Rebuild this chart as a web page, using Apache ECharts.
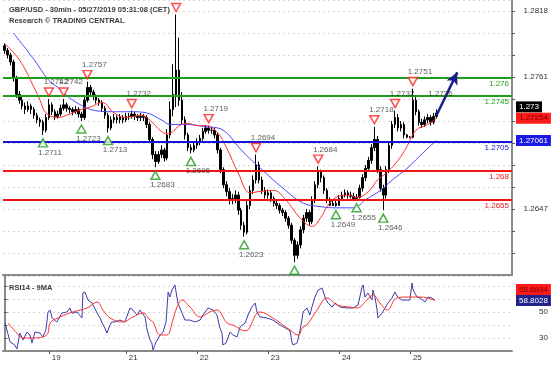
<!DOCTYPE html>
<html><head><meta charset="utf-8">
<script src="https://cdn.jsdelivr.net/npm/echarts@6/dist/echarts.min.js"></script>
<style>html,body{margin:0;padding:0;background:#fff}#c{width:554px;height:366px}</style>
</head><body><div id="c"></div>
<script>
// ---- data ----
const dayLabels = ['19','21','22','23','24','25'];
const dayIndex = [15,41,65,89,113,137];
const slotCount = 172;
const priceTickLabels = ['1.2818','1.2761','1.2647'];
const rsiTickLabels = ['50','30'];
// hourly candles: [open, close, low, high]
const candles = [
[1.2788,1.2784,1.2781,1.2790],[1.2784,1.2780,1.2777,1.2786],[1.2780,1.2774,1.2771,1.2782],[1.2774,1.2760,1.2757,1.2776],
[1.2760,1.2746,1.2743,1.2762],[1.2746,1.2741,1.2738,1.2749],[1.2741,1.2736,1.2733,1.2744],[1.2736,1.2733,1.2729,1.2739],
[1.2733,1.2736,1.2731,1.2740],[1.2736,1.2733,1.2729,1.2738],[1.2733,1.2728,1.2725,1.2735],[1.2728,1.2724,1.2721,1.2730],
[1.2724,1.2722,1.2718,1.2726],[1.2722,1.2715,1.2711,1.2724],[1.2715,1.2726,1.2713,1.2729],[1.2726,1.2737,1.2724,1.2742],
[1.2737,1.2731,1.2728,1.2739],[1.2731,1.2727,1.2724,1.2733],[1.2727,1.2729,1.2725,1.2732],[1.2729,1.2734,1.2727,1.2737],
[1.2734,1.2737,1.2732,1.2742],[1.2737,1.2734,1.2731,1.2739],[1.2734,1.2733,1.2730,1.2736],[1.2733,1.2731,1.2728,1.2735],
[1.2731,1.2733,1.2729,1.2736],[1.2733,1.2729,1.2726,1.2735],[1.2729,1.2726,1.2723,1.2731],[1.2726,1.2741,1.2724,1.2744],
[1.2741,1.2752,1.2739,1.2757],[1.2752,1.2748,1.2745,1.2754],[1.2748,1.2744,1.2741,1.2750],[1.2744,1.2741,1.2738,1.2746],
[1.2741,1.2739,1.2736,1.2743],[1.2739,1.2734,1.2731,1.2741],[1.2734,1.2728,1.2725,1.2736],[1.2728,1.2717,1.2713,1.2730],
[1.2717,1.2724,1.2715,1.2727],[1.2724,1.2726,1.2721,1.2729],[1.2726,1.2724,1.2721,1.2728],[1.2724,1.2726,1.2721,1.2729],
[1.2726,1.2724,1.2721,1.2728],[1.2724,1.2727,1.2722,1.2730],[1.2727,1.2727,1.2724,1.2730],[1.2727,1.2729,1.2725,1.2732],
[1.2729,1.2727,1.2724,1.2731],[1.2727,1.2726,1.2723,1.2729],[1.2726,1.2727,1.2723,1.2730],[1.2727,1.2726,1.2723,1.2729],
[1.2726,1.2720,1.2717,1.2728],[1.2720,1.2707,1.2704,1.2722],[1.2707,1.2694,1.2690,1.2709],[1.2694,1.2688,1.2683,1.2697],
[1.2688,1.2694,1.2686,1.2697],[1.2694,1.2698,1.2691,1.2702],[1.2698,1.2691,1.2688,1.2700],[1.2691,1.2711,1.2689,1.2716],
[1.2711,1.2733,1.2708,1.2740],[1.2733,1.2746,1.2727,1.2772],[1.2746,1.2767,1.2735,1.2815],[1.2767,1.2741,1.2736,1.2795],
[1.2741,1.2724,1.2720,1.2748],[1.2724,1.2711,1.2707,1.2727],[1.2711,1.2700,1.2697,1.2713],[1.2700,1.2698,1.2695,1.2703],
[1.2698,1.2702,1.2696,1.2705],[1.2702,1.2705,1.2699,1.2708],[1.2705,1.2708,1.2702,1.2711],[1.2708,1.2714,1.2706,1.2717],
[1.2714,1.2717,1.2712,1.2719],[1.2717,1.2715,1.2712,1.2719],[1.2715,1.2715,1.2712,1.2718],[1.2715,1.2711,1.2708,1.2717],
[1.2711,1.2698,1.2695,1.2713],[1.2698,1.2681,1.2678,1.2700],[1.2681,1.2668,1.2665,1.2683],[1.2668,1.2662,1.2658,1.2671],
[1.2662,1.2655,1.2651,1.2665],[1.2655,1.2656,1.2651,1.2660],[1.2656,1.2659,1.2652,1.2663],[1.2659,1.2646,1.2642,1.2662],
[1.2646,1.2633,1.2629,1.2648],[1.2633,1.2627,1.2623,1.2636],[1.2627,1.2650,1.2625,1.2654],[1.2650,1.2663,1.2647,1.2667],
[1.2663,1.2672,1.2660,1.2676],[1.2672,1.2685,1.2669,1.2694],[1.2685,1.2672,1.2669,1.2688],[1.2672,1.2663,1.2660,1.2675],
[1.2663,1.2659,1.2656,1.2666],[1.2659,1.2661,1.2656,1.2664],[1.2661,1.2656,1.2653,1.2663],[1.2656,1.2652,1.2649,1.2658],
[1.2652,1.2650,1.2647,1.2654],[1.2650,1.2646,1.2643,1.2652],[1.2646,1.2644,1.2641,1.2648],[1.2644,1.2639,1.2636,1.2646],
[1.2639,1.2633,1.2630,1.2641],[1.2633,1.2620,1.2617,1.2635],[1.2620,1.2607,1.2601,1.2622],[1.2607,1.2616,1.2604,1.2619],
[1.2616,1.2629,1.2613,1.2632],[1.2629,1.2639,1.2626,1.2642],[1.2639,1.2644,1.2636,1.2647],[1.2644,1.2636,1.2633,1.2646],
[1.2636,1.2655,1.2634,1.2658],[1.2655,1.2668,1.2652,1.2671],[1.2668,1.2679,1.2665,1.2684],[1.2679,1.2674,1.2670,1.2681],
[1.2674,1.2663,1.2660,1.2676],[1.2663,1.2655,1.2652,1.2665],[1.2655,1.2650,1.2650,1.2657],[1.2650,1.2652,1.2650,1.2655],
[1.2652,1.2650,1.2649,1.2654],[1.2650,1.2656,1.2650,1.2659],[1.2656,1.2659,1.2654,1.2662],[1.2659,1.2661,1.2657,1.2664],
[1.2661,1.2659,1.2656,1.2663],[1.2659,1.2658,1.2656,1.2662],[1.2658,1.2656,1.2656,1.2661],[1.2656,1.2657,1.2655,1.2660],
[1.2657,1.2665,1.2656,1.2668],[1.2665,1.2674,1.2662,1.2677],[1.2674,1.2682,1.2671,1.2685],[1.2682,1.2689,1.2679,1.2692],
[1.2689,1.2700,1.2686,1.2703],[1.2700,1.2707,1.2697,1.2718],[1.2707,1.2681,1.2678,1.2710],[1.2681,1.2665,1.2662,1.2684],
[1.2665,1.2659,1.2646,1.2668],[1.2659,1.2681,1.2656,1.2684],[1.2681,1.2702,1.2678,1.2705],[1.2702,1.2720,1.2699,1.2723],
[1.2720,1.2726,1.2717,1.2732],[1.2726,1.2717,1.2714,1.2729],[1.2717,1.2720,1.2714,1.2723],[1.2720,1.2711,1.2708,1.2722],
[1.2711,1.2709,1.2708,1.2712],[1.2709,1.2709,1.2708,1.2710],[1.2709,1.2741,1.2708,1.2751],[1.2741,1.2731,1.2728,1.2744],
[1.2731,1.2722,1.2719,1.2733],[1.2722,1.2720,1.2717,1.2725],[1.2720,1.2724,1.2718,1.2727],[1.2724,1.2726,1.2721,1.2729],
[1.2726,1.2722,1.2719,1.2728],[1.2722,1.2727,1.2720,1.2730],[1.2727,1.2730,1.2725,1.2733]
];
const redMA = [[0,1.2790],[5,1.2776],[10,1.2752],[12,1.2741],[14,1.2730],[18,1.2726],[21,1.2728],[26,1.2733],[29,1.2735],[33,1.2739],[37,1.2730],[41,1.2726],[46,1.2728],[49,1.2724],[53,1.2714],[55,1.2712],[57,1.2714],[59,1.2719],[62,1.2721],[65,1.2719],[68,1.2719],[72,1.2713],[75,1.2700],[79,1.2678],[83,1.2661],[86,1.2662],[91,1.2663],[95,1.2655],[100,1.2639],[104,1.2632],[107,1.2640],[109,1.2649],[112,1.2657],[116,1.2659],[119,1.2657],[123,1.2662],[126,1.2672],[129,1.2678],[133,1.2689],[136,1.2701],[139,1.2715],[143,1.2720],[146,1.27254]];
const blueMA = [[3,1.2799],[10,1.2776],[15,1.2758],[18,1.2752],[22,1.2743],[25,1.2738],[29,1.2733],[36,1.2731],[43,1.2731],[48,1.2730],[53,1.2724],[56,1.2720],[62,1.2720],[68,1.2718],[72,1.2717],[75,1.2713],[80,1.2698],[87,1.2681],[95,1.2663],[101,1.2652],[107,1.2649],[112,1.2648],[118,1.2648],[122,1.2655],[127,1.2663],[131,1.2672],[136,1.2682],[140,1.2692],[145,1.2704],[146,1.27061]];
const peaks = [[15,1.2742,'1.2742'],[20,1.2742,'1.2742'],[28,1.2757,'1.2757'],[43,1.2732,'1.2732'],[58,1.2815,''],[69,1.2719,'1.2719'],[85,1.2694,'1.2694'],[106,1.2684,'1.2684'],[125,1.2718,'1.2718'],[132,1.2732,'1.2732'],[138,1.2751,'1.2751']];
const troughs = [[13,1.2711,'1.2711'],[26,1.2723,'1.2723'],[35,1.2713,'1.2713'],[51,1.2683,'1.2683'],[63,1.2695,'1.2695'],[81,1.2623,'1.2623'],[98,1.2601,''],[112,1.2649,'1.2649'],[119,1.2655,'1.2655'],[128,1.2646,'1.2646']];
const levelValues = [1.2760,1.2745,1.2705,1.2680,1.2655];
const levelTexts = ['1.276','1.2745','1.2705','1.268','1.2655'];
const levelColors = ['#1e9e1e','#1e9e1e','#1414d8','#f01414','#f01414'];
const arrowFrom = [146,1.2728], arrowTo = [153,1.2765];
const targetLabel = [146,1.2736,'1.2736'];
const lastClose = 1.273, lastRed = 1.27254, lastBlue = 1.27061;
const rsiLast = 58.8028, rsiMALast = 58.8894;
const rsi = [[0.2,41.5],[1.9,26.9],[3.5,24.6],[4.2,21.5],[5.2,33.8],[6.3,28.5],[7.6,34.6],[8.6,32.3],[9.3,26.2],[10.3,34.6],[12.0,33.8],[13.0,30.8],[14.0,36.2],[14.7,50],[15.4,51.5],[16.1,45.4],[17.7,42.3],[19.4,49.2],[21.1,50],[22.1,53.1],[22.8,49],[24.5,50],[26.2,45.4],[26.5,64.6],[27.2,65.4],[28.2,59.2],[29.6,56.9],[31.3,49.2],[32.3,45.4],[33.0,41.5],[33.9,37.7],[34.6,33.8],[35.7,40],[36.3,42.3],[37.3,42.3],[39.0,43.8],[40.7,42.3],[42.4,53.1],[43.4,51.5],[44.8,47.7],[45.8,51.5],[47.5,46.2],[48.2,36.2],[49.2,28.5],[49.8,26.2],[50.2,20.8],[51.2,26.9],[52.6,32.3],[53.6,34.6],[54.6,42.3],[55.3,65.4],[55.9,61.5],[56.6,66.9],[57.6,70.8],[58.6,56.9],[60.0,49.2],[61.0,43.8],[62.7,43.8],[64.4,42.3],[66.1,43.8],[67.1,47.7],[68.8,53.1],[70.5,51.5],[71.8,47.7],[72.8,37.7],[73.5,33.8],[73.8,24.6],[74.9,26.2],[76.2,34.6],[77.2,32.3],[78.6,30.8],[79.6,38.5],[81.3,41.5],[82.3,47.7],[83.6,53.8],[84.7,56.9],[85.3,50],[86.3,46.2],[88.7,45.4],[90.7,43.8],[93.1,40],[95.5,36.9],[96.5,35.4],[97.2,26.2],[97.5,24.6],[98.9,26.2],[99.9,36.2],[100.5,43.8],[100.9,50],[102.2,53.1],[103.2,47.7],[103.9,53.8],[104.9,61.5],[106.0,66.9],[107.3,68.5],[108.3,61.5],[109.3,56.9],[110.7,53.8],[111.7,56.9],[113.4,53.8],[115.7,53.1],[117.8,53.1],[119.5,55.4],[120.8,69.2],[121.2,70.8],[121.8,61.5],[122.8,64.6],[124.2,59.2],[124.5,66.9],[125.2,61.5],[125.9,51.5],[126.2,45.4],[127.6,49.2],[128.6,53.1],[129.6,56.9],[131.0,60.8],[131.9,65.4],[132.9,61.5],[134.3,59.2],[136.0,59.2],[137.0,59.2],[137.7,72.3],[138.1,66.9],[139.4,61.5],[140.4,60.8],[142.1,57.7],[143.1,61.5],[144.4,60.8],[145.5,58.8]];
const rsiMA = [[1.2,41.5],[4.2,33.8],[6.3,30],[9.6,30],[13.0,30.8],[14.7,33.8],[15.4,41.5],[18.8,46.2],[23.1,50],[27.9,53.1],[31.3,57.7],[33.3,51.5],[35.7,45.4],[40.0,42.3],[43.4,46.2],[46.8,49.2],[49.2,43.8],[50.2,42.3],[52.6,32.3],[54.9,32.3],[56.9,43.8],[58.3,53.8],[60.0,59.2],[62.7,53.8],[66.1,46.2],[69.4,50],[71.8,51.5],[75.2,41.5],[77.2,40],[81.3,35.4],[85.3,49.2],[86.3,50],[90.7,45.4],[94.1,40],[96.5,36.2],[99.2,32.3],[100.9,38.5],[102.2,40],[105.6,51.5],[109.0,60.8],[112.4,55.4],[116.8,53.8],[119.1,53.1],[122.5,59.2],[124.5,63.1],[126.9,56.9],[129.3,51.5],[132.6,60.8],[136.0,61.5],[140.4,61.5],[142.8,60.8],[145.5,58.9]];

// ---- chart ----
const FONT = 'Liberation Sans';
const categories = [];
for (let i = 0; i < slotCount; i++) {
  const k = dayIndex.indexOf(i);
  categories.push(k >= 0 ? dayLabels[k] : '');
}
const chart = echarts.init(document.getElementById('c'), null, {renderer: 'canvas'});
const tag = (val, text, bg, fg, dy) => ({
  yAxis: val,
  lineStyle: {color: 'rgba(0,0,0,0)', width: 1},
  label: {show: true, position: 'end', distance: 4, formatter: text, backgroundColor: bg, color: fg,
          fontSize: 8, fontFamily: FONT, padding: [2, 3, 1, 3], offset: [0, dy]}
});
const option = {
  animation: false,
  backgroundColor: '#fff',
  title: [
    {text: 'GBP/USD - 30min - 05/27/2019 05:31:08 (CET)', left: 4, top: 1,
     textStyle: {fontSize: 7.5, fontWeight: 'bold', color: '#3a3a3a', fontFamily: FONT}},
    {text: 'Research © TRADING CENTRAL', left: 4, top: 12,
     textStyle: {fontSize: 7.5, fontWeight: 'bold', color: '#3a3a3a', fontFamily: FONT}},
    {text: 'RSI14 - 9MA', left: 4, top: 279,
     textStyle: {fontSize: 7.5, fontWeight: 'bold', color: '#3a3a3a', fontFamily: FONT}}
  ],
  grid: [
    {left: 3, right: 42, top: 0, height: 275},
    {left: 3, right: 42, top: 276, height: 75}
  ],
  xAxis: [
    {type: 'category', gridIndex: 0, data: categories, boundaryGap: true,
     axisLine: {show: true, lineStyle: {color: '#8a8a8a', width: 2}},
     axisTick: {show: false}, axisLabel: {show: false}, splitLine: {show: false}},
    {type: 'value', gridIndex: 1, min: -0.5, max: slotCount - 0.5,
     axisLine: {show: true, lineStyle: {color: '#8a8a8a', width: 2}},
     axisTick: {show: true, customValues: dayIndex, length: 3, lineStyle: {color: '#555'}},
     axisLabel: {show: true, customValues: dayIndex, fontSize: 8, fontFamily: FONT, color: '#333',
       align: 'left', margin: 3, padding: [0, 0, 0, 3],
       formatter: v => { const k = dayIndex.indexOf(Math.round(v)); return k >= 0 ? dayLabels[k] : ''; }},
     splitLine: {show: false}}
  ],
  yAxis: [
    {type: 'value', gridIndex: 0, position: 'right', min: 1.2590, max: 1.28275, interval: 0.0019,
     axisLine: {show: true, lineStyle: {color: '#8a8a8a', width: 2}},
     axisTick: {show: true, length: 3, lineStyle: {color: '#555'}},
     axisLabel: {showMinLabel: false, showMaxLabel: false, align: 'right', margin: 36, fontSize: 8,
       fontFamily: FONT, color: '#333',
       formatter: v => { const s = v.toFixed(4); return priceTickLabels.includes(s) ? s : ''; }},
     splitLine: {show: true, lineStyle: {color: '#d8d8d8', type: [2, 3], width: 1}}},
    {type: 'value', gridIndex: 1, position: 'right', min: 20, max: 77.69, interval: 10,
     axisLine: {show: true, lineStyle: {color: '#8a8a8a', width: 2}},
     axisTick: {show: true, length: 3, lineStyle: {color: '#555'}},
     axisLabel: {showMinLabel: false, showMaxLabel: false, align: 'right', margin: 36, fontSize: 8,
       fontFamily: FONT, color: '#333',
       formatter: v => { const s = String(Math.round(v)); return rsiTickLabels.includes(s) ? s : ''; }},
     splitLine: {show: true, lineStyle: {color: '#d8d8d8', type: [2, 3], width: 1}}}
  ],
  series: [
    {type: 'candlestick', xAxisIndex: 0, yAxisIndex: 0, data: candles, barWidth: 2, z: 2,
     itemStyle: {color: '#000', color0: '#000', borderColor: '#000', borderColor0: '#000', borderWidth: 1}},
    {type: 'line', xAxisIndex: 0, yAxisIndex: 0, data: blueMA, smooth: 0.4, symbol: 'none',
     lineStyle: {color: '#4a4aff', width: 1}, z: 3},
    {type: 'line', xAxisIndex: 0, yAxisIndex: 0, data: redMA, smooth: 0.4, symbol: 'none',
     lineStyle: {color: '#ff3030', width: 1}, z: 3,
     markLine: {silent: true, symbol: 'none', animation: false, precision: 6,
       data: [tag(lastClose, '1.273', '#000', '#fff', -6),
              tag(lastRed, '1.27254', '#ff1a1a', '#7a0000', 0),
              tag(lastBlue, '1.27061', '#1a1ae6', '#fff', 0)]}},
    {type: 'scatter', xAxisIndex: 0, yAxisIndex: 0, z: 6,
     data: peaks.map(p => ({value: [p[0], p[1]], name: p[2]})),
     symbol: 'triangle', symbolRotate: 180, symbolSize: [9, 8], symbolOffset: [0, -7],
     itemStyle: {color: '#fff', borderColor: '#ff2020', borderWidth: 1.5},
     label: {show: true, position: 'top', distance: 1, offset: [7, 0], formatter: d => d.name,
             fontSize: 8, fontFamily: FONT, color: '#333'}},
    {type: 'scatter', xAxisIndex: 0, yAxisIndex: 0, z: 6,
     data: troughs.map(p => ({value: [p[0], p[1]], name: p[2]})),
     symbol: 'triangle', symbolSize: [9, 8], symbolOffset: [0, 8],
     itemStyle: {color: '#fff', borderColor: '#1e9e1e', borderWidth: 1.5},
     label: {show: true, position: 'bottom', distance: 1, offset: [7, 0], formatter: d => d.name,
             fontSize: 8, fontFamily: FONT, color: '#333'}},
    {type: 'scatter', xAxisIndex: 0, yAxisIndex: 0, z: 5, symbolSize: 0,
     data: [{value: [targetLabel[0], targetLabel[1]], name: targetLabel[2]}],
     label: {show: true, position: 'top', distance: 8, offset: [4, 0], formatter: d => d.name,
             fontSize: 8, fontFamily: FONT, color: '#333'},
     markLine: {silent: true, symbol: 'none', animation: false, precision: 6,
       data: levelValues.map((v, i) => ({
         yAxis: v, lineStyle: {color: levelColors[i], width: 2, type: 'solid'},
         label: {show: true, position: 'insideEndBottom', distance: [3, 2], formatter: levelTexts[i],
                 color: levelColors[i], fontSize: 8, fontFamily: FONT}}))}},
    {type: 'scatter', xAxisIndex: 0, yAxisIndex: 0, z: 7, symbolSize: 0, data: [arrowFrom],
     markLine: {silent: true, symbol: ['none', 'arrow'], symbolSize: [9, 12], animation: false, precision: 6,
       lineStyle: {color: '#1c1c8c', width: 2.5, type: 'solid'}, label: {show: false},
       data: [[{coord: arrowFrom}, {coord: arrowTo}]]}},
    {type: 'line', xAxisIndex: 1, yAxisIndex: 1, data: rsi, symbol: 'none',
     lineStyle: {color: '#3c3ca8', width: 1},
     markLine: {silent: true, symbol: 'none', animation: false, precision: 6,
       data: [tag(rsiMALast, '58.8894', '#ff1a1a', '#7a0000', -11),
              tag(rsiLast, '58.8028', '#22228c', '#fff', 0)]}},
    {type: 'line', xAxisIndex: 1, yAxisIndex: 1, data: rsiMA, smooth: 0.4, symbol: 'none',
     lineStyle: {color: '#ff3030', width: 1}}
  ]
};
chart.setOption(option);
</script></body></html>
